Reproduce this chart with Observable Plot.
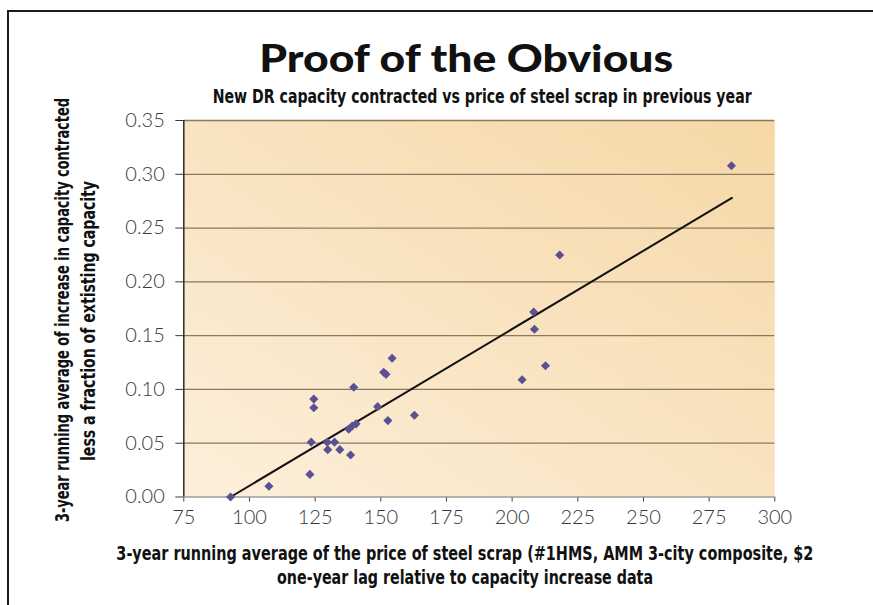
<!DOCTYPE html>
<html>
<head>
<meta charset="utf-8">
<script src="https://cdn.jsdelivr.net/npm/d3@7"></script>
<script src="https://cdn.jsdelivr.net/npm/@observablehq/plot@0.6"></script>
<style>
  html, body { margin: 0; padding: 0; background: #fff; }
  #wrap { position: relative; width: 873px; height: 605px; overflow: hidden; background: #fff; }
  #border { position: absolute; left: 7px; top: 10px; width: 900px; height: 700px;
            border-left: 2px solid #1c1c1c; border-top: 2px solid #1c1c1c; }
  .lbl { position: absolute; white-space: nowrap; line-height: 1; color: #111; }
  .title { font-family: Lato, "Open Sans", sans-serif; font-weight: 900; font-size: 37px; }
  .cond { font-family: "Liberation Sans Narrow", "DejaVu Sans Condensed", "Roboto Condensed", sans-serif;
          font-stretch: condensed; font-weight: bold; font-size: 20px; }
  .sub { font-size: 19px; }
  #chart { position: absolute; left: 0; top: 90px; }
  #chart svg text { font-weight: 300; }
</style>
</head>
<body>
<div id="wrap"><div id="border"></div><div id="chart"></div></div>
<script>
// ---- data ----
const scrapPrice = [92.8, 107.4, 123.0, 123.5, 124.5, 124.5, 129.6, 132.4, 129.8, 134.4, 138.5, 137.8, 139.1, 140.6,
                    139.7, 148.8, 151.1, 152.0, 154.3, 152.7, 162.8, 203.8, 208.2, 208.5, 212.7, 218.1, 283.5];
const capacityIncrease = [0.000, 0.010, 0.021, 0.051, 0.091, 0.083, 0.051, 0.051, 0.044, 0.044, 0.039, 0.063, 0.066, 0.068,
                    0.102, 0.084, 0.116, 0.114, 0.129, 0.071, 0.076, 0.109, 0.172, 0.156, 0.122, 0.225, 0.308];
const trendX = [92.8, 283.7];
const trendY = [0.0, 0.278];
const xTicks = [75, 100, 125, 150, 175, 200, 225, 250, 275, 300];
const yTicks = [0, 0.05, 0.10, 0.15, 0.20, 0.25, 0.30, 0.35];

const titleText = "Proof of the Obvious";
const subtitleText = "New DR capacity contracted vs price of steel scrap in previous year";
const xLabel1 = "3-year running average of the price of steel scrap (#1HMS, AMM 3-city composite, $2";
const xLabel2 = "one-year lag relative to capacity increase data";
const yLabel1 = "3-year running average of increase in capacity contracted";
const yLabel2 = "less a fraction of extisting capacity";

const points = scrapPrice.map((x, i) => ({x, y: capacityIncrease[i]}));
const trend = trendX.map((x, i) => ({x, y: trendY[i]}));

const plot = Plot.plot({
  width: 873,
  height: 440,
  marginTop: 30,
  marginBottom: 33.5,
  marginLeft: 183.3,
  marginRight: 98.7,
  style: {background: "transparent", overflow: "visible", fontFamily: "Lato, 'Open Sans', sans-serif", fontSize: "20px", color: "#3a3a3a"},
  x: {domain: [75, 300], ticks: xTicks, tickSize: 5, tickPadding: 8, label: null},
  y: {domain: [0, 0.35], ticks: yTicks, tickSize: 8, tickPadding: 11, tickFormat: d3.format(".2f"), label: null},
  marks: [
    Plot.frame({fill: "url(#bgGrad)", stroke: "none"}),
    Plot.ruleY(yTicks.filter(d => d > 0), {stroke: "#8b7862", strokeWidth: 1.3}),
    Plot.ruleY([0], {stroke: "#a09a92", strokeWidth: 1.3}),
    Plot.ruleX([75], {stroke: "#2a2a2a", strokeWidth: 1.5}),
    Plot.line(trend, {x: "x", y: "y", stroke: "#111", strokeWidth: 2}),
    Plot.dot(points, {x: "x", y: "y", symbol: "diamond2", r: 4.1, fill: "#5a5192", stroke: "none"})
  ]
});
// background gradient
const ns = "http://www.w3.org/2000/svg";
const defs = document.createElementNS(ns, "defs");
defs.innerHTML = `<linearGradient id="bgGrad" x1="0" y1="1" x2="1" y2="0">
  <stop offset="0" stop-color="#fcefdb"/><stop offset="1" stop-color="#f6d8a6"/></linearGradient>`;
plot.insertBefore(defs, plot.firstChild);
document.getElementById("chart").appendChild(plot);

// ---- text labels, fitted to the reference widths ----
const wrap = document.getElementById("wrap");
function place(txt, cls, cx, cy, targetW, rot = 0) {
  const s = document.createElement("div");
  s.className = "lbl " + cls;
  s.textContent = txt;
  wrap.appendChild(s);
  const r = s.getBoundingClientRect();
  const w = r.width, h = r.height;
  const k = targetW ? targetW / w : 1;
  s.style.left = (cx - w / 2) + "px";
  s.style.top = (cy - h / 2) + "px";
  s.style.transformOrigin = "50% 50%";
  s.style.transform = `rotate(${rot}deg) scaleX(${k})`;
  return s;
}
place(titleText, "title", 466, 57, 414);
place(subtitleText, "cond sub", 482, 96, 539);
place(xLabel1, "cond", 465, 553, 697);
place(xLabel2, "cond", 465, 577, 376);
place(yLabel1, "cond", 62, 310, 424, -90);
place(yLabel2, "cond", 88, 321, 280, -90);
</script>
</body>
</html>
